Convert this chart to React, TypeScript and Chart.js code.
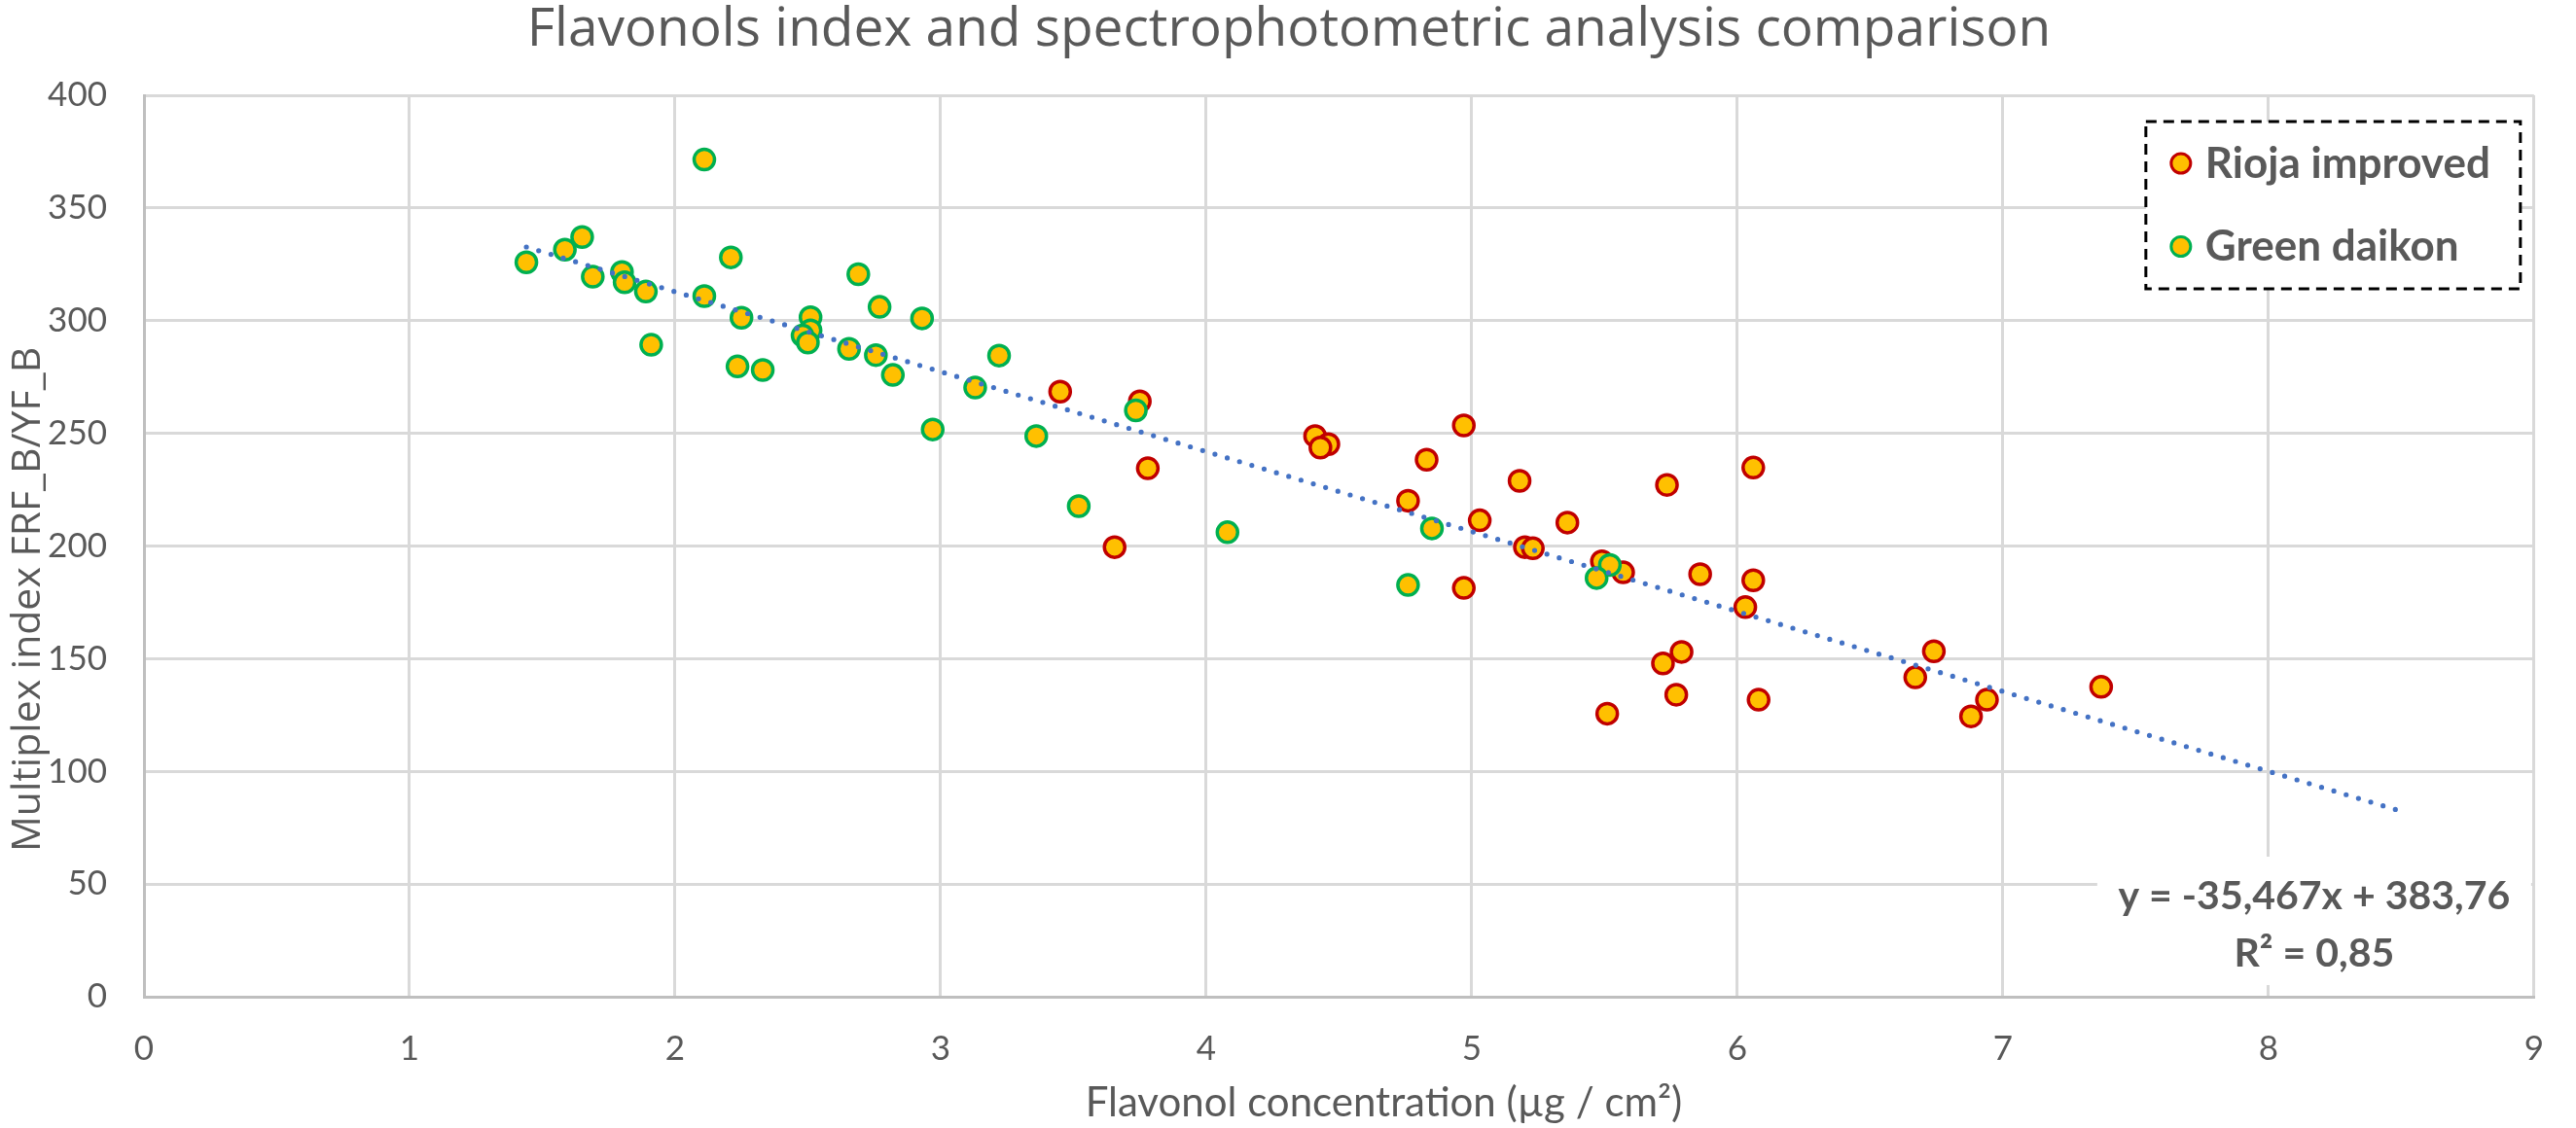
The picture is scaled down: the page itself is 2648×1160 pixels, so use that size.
import React, { useEffect, useRef } from "react";
import { Chart, registerables } from "chart.js";

Chart.register(...registerables);

const TITLE = "Flavonols index and spectrophotometric analysis comparison";
const X_TITLE = "Flavonol concentration (µg / cm²)";
const Y_TITLE = "Multiplex index FRF_B/YF_B";
const SERIES_NAMES = ["Rioja improved", "Green daikon"];

// Rioja improved (red border)
const riojaX = [
  3.45, 3.75, 3.78, 3.655, 4.41, 4.46, 4.43, 4.97, 4.83, 4.76, 4.97, 5.03,
  5.18, 5.2, 5.23, 5.36, 5.49, 5.57, 5.51, 5.735, 6.06, 5.86, 6.06, 6.03,
  5.79, 5.72, 5.77, 6.08, 6.74, 6.67, 6.94, 6.88, 7.37,
];
const riojaY = [
  268.5, 264.2, 234.5, 199.5, 248.8, 245.2, 243.7, 253.5, 238.3, 220.1, 181.4,
  211.4, 228.9, 199.5, 199.0, 210.4, 193.2, 188.3, 125.6, 227.1, 234.8, 187.5,
  184.8, 172.9, 153.0, 147.9, 134.0, 131.8, 153.3, 141.7, 131.8, 124.4, 137.5,
];

// Green daikon (green border)
const daikonX = [
  1.44, 1.585, 1.65, 1.69, 1.8, 1.81, 1.89, 1.91, 2.11, 2.11, 2.21, 2.25,
  2.235, 2.33, 2.51, 2.51, 2.48, 2.5, 2.655, 2.69, 2.77, 2.756, 2.82, 2.93,
  2.97, 3.13, 3.22, 3.36, 3.52, 3.735, 4.08, 4.85, 4.76, 5.52, 5.47,
];
const daikonY = [
  325.9, 331.5, 337.1, 319.5, 321.6, 317.0, 312.9, 289.3, 371.5, 310.9, 328.1,
  301.3, 279.7, 278.1, 301.5, 295.7, 293.4, 290.3, 287.5, 320.6, 306.1, 284.7,
  275.9, 301.0, 251.7, 270.3, 284.5, 248.8, 217.7, 260.2, 206.1, 207.8, 182.7,
  191.6, 185.8,
];

const X_MIN = 0;
const X_MAX = 9;
const X_STEP = 1;
const Y_MIN = 0;
const Y_MAX = 400;
const Y_STEP = 50;

// Linear trendline shown on the chart
const TREND_SLOPE = -35.467;
const TREND_INTERCEPT = 383.76;
const TREND_R2 = 0.85;
const TREND_RANGE = [1.44, 8.52];

const GRAY_TEXT = "#595959";
const FILL = "#FFC000";
const RED = "#C00000";
const GREEN = "#00B050";
const TREND_BLUE = "#4472C4";

const zip = (xs: number[], ys: number[]) => xs.map((x, i) => ({ x, y: ys[i] }));
const comma = (v: number, d: number) => v.toFixed(d).replace(".", ",");

const overlayPlugin = {
  id: "overlay",
  afterDraw(chart: any) {
    const ctx = chart.ctx as CanvasRenderingContext2D;
    const area = chart.chartArea;
    ctx.save();

    // Title
    ctx.fillStyle = GRAY_TEXT;
    ctx.textAlign = "center";
    ctx.textBaseline = "alphabetic";
    ctx.font = "400 55px 'Open Sans'";
    ctx.fillText(TITLE, 1325, 47);

    // X axis title
    ctx.font = "400 42px Lato";
    ctx.fillText(X_TITLE, (area.left + area.right) / 2 + 46, 1148);

    // Y axis title
    ctx.save();
    ctx.translate(41, (area.top + area.bottom) / 2 + 55);
    ctx.rotate(-Math.PI / 2);
    ctx.font = "400 41px 'Open Sans'";
    ctx.fillText(Y_TITLE, 0, 0);
    ctx.restore();

    // Legend
    const lx = area.right - 399;
    const ly = area.top + 27;
    const lw = 385;
    const lh = 172;
    ctx.fillStyle = "#FFFFFF";
    ctx.fillRect(lx, ly, lw, lh);
    ctx.setLineDash([11, 7]);
    ctx.lineWidth = 3;
    ctx.strokeStyle = "#000000";
    ctx.strokeRect(lx, ly, lw, lh);
    ctx.setLineDash([]);
    const legendDatasets = chart.data.datasets.filter((d: any) => !d.isTrend);
    legendDatasets.forEach((ds: any, i: number) => {
      const cy = ly + 43 + i * 85.5;
      ctx.beginPath();
      ctx.arc(lx + 36, cy, 10, 0, Math.PI * 2);
      ctx.fillStyle = ds.backgroundColor;
      ctx.fill();
      ctx.lineWidth = 3;
      ctx.strokeStyle = ds.borderColor;
      ctx.stroke();
      ctx.fillStyle = GRAY_TEXT;
      ctx.textAlign = "left";
      ctx.textBaseline = "alphabetic";
      ctx.font = "700 44px Lato";
      ctx.fillText(ds.label, lx + 61, cy + 14.5);
    });

    // Trendline equation
    const bx = area.right - 449;
    const by = 881;
    ctx.fillStyle = "#FFFFFF";
    ctx.fillRect(bx, by, 446, 132);
    ctx.fillStyle = GRAY_TEXT;
    ctx.textAlign = "center";
    ctx.font = "700 41px Lato";
    const eq = `y = ${comma(TREND_SLOPE, 3)}x + ${comma(TREND_INTERCEPT, 2)}`;
    ctx.fillText(eq, bx + 223, 935);
    ctx.fillText(`R² = ${comma(TREND_R2, 2)}`, bx + 223, 994);

    ctx.restore();
  },
};

export default function App() {
  const ref = useRef<HTMLCanvasElement | null>(null);

  useEffect(() => {
    document.body.style.margin = "0";
    const canvas = ref.current;
    if (!canvas) return;

    const trendData = TREND_RANGE.map((x) => ({
      x,
      y: TREND_SLOPE * x + TREND_INTERCEPT,
    }));

    const chart = new Chart(canvas, {
      type: "scatter",
      data: {
        datasets: [
          {
            label: SERIES_NAMES[0],
            data: zip(riojaX, riojaY),
            backgroundColor: FILL,
            borderColor: RED,
            borderWidth: 3.5,
            pointRadius: 10.5,
            order: 2,
          },
          {
            label: SERIES_NAMES[1],
            data: zip(daikonX, daikonY),
            backgroundColor: FILL,
            borderColor: GREEN,
            borderWidth: 3.5,
            pointRadius: 10.5,
            order: 1,
          },
          {
            label: "Linear trend",
            isTrend: true,
            data: trendData,
            showLine: true,
            pointRadius: 0,
            borderColor: TREND_BLUE,
            backgroundColor: TREND_BLUE,
            borderWidth: 5.2,
            borderDash: [0, 13.2],
            borderCapStyle: "round",
            order: 0,
          } as any,
        ],
      },
      options: {
        responsive: false,
        animation: false,
        devicePixelRatio: 1,
        events: [],
        layout: { padding: { top: 98, left: 0, right: 15, bottom: 0 } },
        plugins: {
          legend: { display: false },
          title: { display: false },
          tooltip: { enabled: false },
        },
        scales: {
          x: {
            type: "linear",
            min: X_MIN,
            max: X_MAX,
            ticks: {
              stepSize: X_STEP,
              color: GRAY_TEXT,
              font: { family: "Lato", size: 35 },
              padding: 33,
            },
            grid: { color: "#D9D9D9", lineWidth: 3, drawTicks: false },
            border: { color: "#BFBFBF", width: 3 },
            afterFit: (scale: any) => {
              scale.height = 135;
            },
          },
          y: {
            type: "linear",
            min: Y_MIN,
            max: Y_MAX,
            ticks: {
              stepSize: Y_STEP,
              color: GRAY_TEXT,
              font: { family: "Lato", size: 35 },
              padding: 38,
            },
            grid: { color: "#D9D9D9", lineWidth: 3, drawTicks: false },
            border: { color: "#BFBFBF", width: 3 },
            afterFit: (scale: any) => {
              scale.width = 148;
            },
          },
        },
      },
      plugins: [overlayPlugin],
    });

    return () => chart.destroy();
  }, []);

  return (
    <canvas
      ref={ref}
      width={2648}
      height={1160}
      style={{ display: "block", width: "2648px", height: "1160px" }}
    />
  );
}
